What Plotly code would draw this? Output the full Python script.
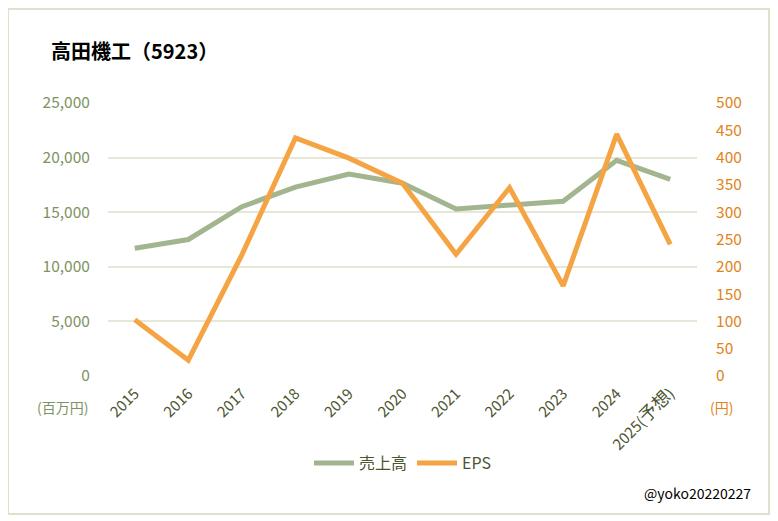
import plotly.graph_objects as go

years = ["2015", "2016", "2017", "2018", "2019", "2020", "2021", "2022", "2023", "2024", "2025(予想)"]
sales = [11700, 12500, 15500, 17300, 18500, 17650, 15300, 15650, 16000, 19750, 18000]
eps = [103, 29, 222, 436, 399, 353, 223, 345, 165, 443, 241]

green = "#A3B58F"
orange = "#F5A443"
grid = "#E6E7D6"
font = "Noto Sans CJK JP"

fig = go.Figure()
fig.add_trace(go.Scatter(x=years, y=sales, name="売上高", mode="lines",
                         line=dict(color=green, width=5), yaxis="y"))
fig.add_trace(go.Scatter(x=years, y=eps, name="EPS", mode="lines",
                         line=dict(color=orange, width=5), yaxis="y2"))

# page has an 8px body margin; work in screen coordinates
O = 8
W, H = 778 - O, 521 - O
L, T = 108 - O, 103 - O
R = 778 - 697
B = 521 - 376
pw = W - L - R
ph = H - T - B

def px(x):
    return (x - O - L) / pw

def py(y):
    return (H - B - (y - O)) / ph

def tick_label(s):
    if "(" in s:
        a, rest = s.split("(", 1)
        inner = rest.rstrip(")")
        return a + '(<span style="font-size:18px">' + inner + '</span>)'
    return s

fig.update_layout(
    width=W, height=H,
    margin=dict(l=L, r=R, t=T, b=B, autoexpand=False),
    paper_bgcolor="white", plot_bgcolor="white",
    font=dict(family=font, size=14, color="#4B5530"),
    title=dict(text="<b>高田機工（5923）</b>", x=(51 - O) / W, xanchor="left",
               y=1 - (52 - O) / H, yanchor="middle", font=dict(size=20, color="black", family=font)),
    xaxis=dict(type="category", tickangle=-45, showgrid=False, zeroline=False,
               range=[-0.5, len(years) - 0.5], automargin=False,
               tickmode="array", tickvals=years, ticktext=[tick_label(y) for y in years],
               showline=False, ticks="outside", ticklen=2, tickcolor="white",
               tickfont=dict(size=15, color="#4B5530")),
    yaxis=dict(range=[0, 25000], dtick=5000, tickformat=",", gridcolor=grid, gridwidth=2,
               zeroline=False, showline=False, tickfont=dict(size=15.5, color="#7E9363"),
               automargin=False, ticks="outside", ticklen=14, tickcolor="white"),
    yaxis2=dict(range=[0, 500], dtick=50, overlaying="y", side="right", showgrid=False,
                zeroline=False, showline=False, tickfont=dict(size=15.5, color="#E0841A"),
                automargin=False, ticks="outside", ticklen=15, tickcolor="white"),
    legend=dict(orientation="h", x=0.5, xanchor="center", y=py(463), yanchor="middle",
                font=dict(size=16, color="#4B5530"), itemwidth=40),
    showlegend=True,
)

fig.add_annotation(text="(百万円)", xref="paper", yref="paper", x=px(62), y=py(407),
                   xanchor="center", yanchor="middle",
                   showarrow=False, font=dict(size=14, color="#7E9363"))
fig.add_annotation(text="(円)", xref="paper", yref="paper", x=px(721), y=py(407),
                   xanchor="center", yanchor="middle",
                   showarrow=False, font=dict(size=14, color="#E0841A"))
fig.add_annotation(text="@yoko20220227", xref="paper", yref="paper", x=px(753), y=py(493),
                   xanchor="right", yanchor="middle", showarrow=False,
                   font=dict(size=14, color="black"))

fig.add_shape(type="rect", xref="paper", yref="paper",
              x0=px(8), x1=px(769), y0=py(514), y1=py(9),
              line=dict(color="#E0E1CC", width=2), fillcolor="rgba(0,0,0,0)", layer="below")

fig.write_html("out.html")
